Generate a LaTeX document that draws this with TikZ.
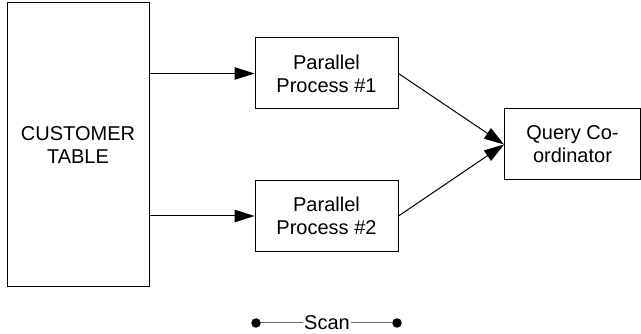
\documentclass[tikz,border=0pt]{standalone}
\usepackage{fontspec}
\setmainfont{Liberation Sans}
\usetikzlibrary{arrows.meta}
\begin{document}
\begin{tikzpicture}[x=1pt,y=-1pt,
  txt/.style={font=\fontsize{20}{23}\selectfont},
  box/.style={txt, draw, line width=1pt, inner sep=0pt, align=center},
  flow/.style={line width=1pt, -{Triangle[length=20pt,width=12.5pt]}},
  link/.style={draw=black!60, line width=1pt},
  dot/.style={circle, fill=black, inner sep=0pt, minimum size=9.5pt}]
\useasboundingbox (0,0) rectangle (641,334);

% source table and the two scan processes
\node[box, minimum width=142pt, minimum height=284pt] (table) at (78,145) {CUSTOMER\\TABLE};
\node[box, minimum width=143pt, minimum height=71pt] (p1) at (326.5,73.5) {Parallel\\Process \#1};
\node[box, minimum width=143pt, minimum height=71pt] (p2) at (326.5,216) {Parallel\\Process \#2};
\node[box, minimum width=136pt, minimum height=71pt] (qc) at (572.5,144.5) {Query Co-\\ordinator};

\draw[flow] (table.east |- p1.west) -- (p1.west);
\draw[flow] (table.east |- p2.west) -- (p2.west);
\draw[flow] (p1.east) -- (qc.west);
\draw[flow] (p2.east) -- (qc.west);

% legend
\node[txt, inner sep=1pt] (scan) at (327,323) {Scan};
\node[dot] (sl) at (256,323) {};
\node[dot] (sr) at (397,323) {};
\draw[link] (sl) -- (scan.west);
\draw[link] (scan.east) -- (sr);
\end{tikzpicture}
\end{document}
